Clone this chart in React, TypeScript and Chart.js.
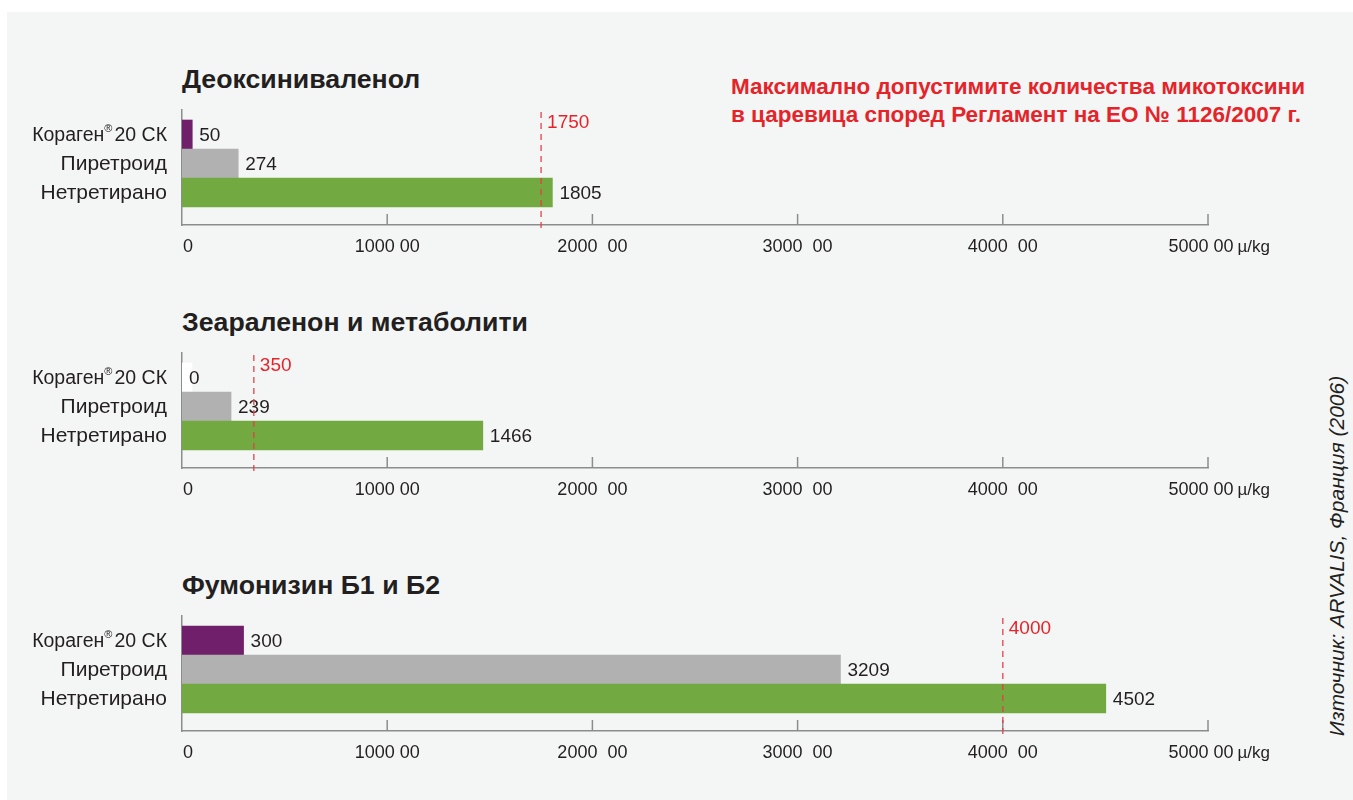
import React, { useEffect, useRef } from 'react';
import { Chart, registerables } from 'chart.js';

Chart.register(...registerables);

// ---------- data ----------
const categories = ['Кораген® 20 СК', 'Пиретроид', 'Нетретирано'];
const titles = ['Деоксиниваленол', 'Зеараленон и метаболити', 'Фумонизин Б1 и Б2'];
const deoxynivalenol = [50, 274, 1805];
const zearalenone = [0, 239, 1466];
const fumonisin = [300, 3209, 4502];
const limits = [1750, 350, 4000];
const xTicks = [0, 1000, 2000, 3000, 4000, 5000];
const xTickLabels = ['0', '1000 00', '2000  00', '3000  00', '4000  00', '5000 00'];
const unitLabel = 'µ/kg';
const noteLines = [
  'Максимално допустимите количества микотоксини',
  'в царевица според Регламент на ЕО № 1126/2007 г.',
];
const sourceText = 'Източник: ARVALIS, Франция (2006)';

// ---------- styles ----------
const FONT = '"Liberation Sans", Arial, Helvetica, sans-serif';
const barColors = ['#701f6a', '#b1b1b2', '#72aa41'];
const zeroBarColor = '#ffffff';
const axisColor = '#8c8c8c';
const textColor = '#231f20';
const limitColor = '#e5242a';
const limitLineColor = 'rgba(232, 60, 70, 0.85)';
const panelColor = '#f4f6f6';

const CANVAS_W = 1300;
const CANVAS_H = 165;
const CHART_TOPS = [100, 343, 606];

function makeOverlay(values: number[], limit: number) {
  return {
    id: 'overlay',
    afterDatasetsDraw(chart: any) {
      const { ctx, chartArea, scales } = chart;
      const xs = scales.x;
      const ys = scales.y;
      ctx.save();

      // upward tick marks on x axis
      ctx.strokeStyle = axisColor;
      ctx.lineWidth = 1.5;
      xTicks.forEach((v) => {
        if (v === 0) return;
        const x = xs.getPixelForValue(v);
        ctx.beginPath();
        ctx.moveTo(x, chartArea.bottom);
        ctx.lineTo(x, chartArea.bottom - 11);
        ctx.stroke();
      });

      // x tick labels
      ctx.font = `18px ${FONT}`;
      ctx.fillStyle = textColor;
      ctx.textBaseline = 'top';
      const ly = chartArea.bottom + 13;
      xTicks.forEach((v, i) => {
        const x = xs.getPixelForValue(v);
        const label = xTickLabels[i];
        if (v === 0) {
          ctx.textAlign = 'left';
          ctx.fillText(label, x + 1, ly);
        } else if (i === xTicks.length - 1) {
          const w = ctx.measureText(label).width;
          const cx = x - 7;
          ctx.textAlign = 'center';
          ctx.fillText(label, cx, ly);
          ctx.textAlign = 'left';
          ctx.font = `17px ${FONT}`;
          ctx.fillText(unitLabel, cx + w / 2 + 4, ly + 1);
          ctx.font = `18px ${FONT}`;
        } else {
          ctx.textAlign = 'center';
          ctx.fillText(label, x, ly);
        }
      });

      // value labels
      ctx.font = `19px ${FONT}`;
      ctx.fillStyle = textColor;
      ctx.textAlign = 'left';
      ctx.textBaseline = 'middle';
      values.forEach((v, i) => {
        ctx.fillText(String(v), xs.getPixelForValue(v) + 7, ys.getPixelForValue(i) + 1);
      });

      // limit line
      const lx = xs.getPixelForValue(limit);
      ctx.strokeStyle = limitLineColor;
      ctx.lineWidth = 1.5;
      ctx.setLineDash([6, 5]);
      ctx.beginPath();
      ctx.moveTo(lx, chartArea.top + 2);
      ctx.lineTo(lx, chartArea.bottom + 3);
      ctx.stroke();
      ctx.setLineDash([]);
      ctx.fillStyle = limitColor;
      ctx.textBaseline = 'top';
      ctx.font = `19px ${FONT}`;
      ctx.fillText(String(limit), lx + 6, chartArea.top + 3);

      // category labels (right aligned)
      ctx.fillStyle = textColor;
      ctx.textBaseline = 'middle';
      const rx = chartArea.left - 15;
      categories.forEach((cat, i) => {
        const y = ys.getPixelForValue(i) + 1;
        const idx = cat.indexOf('®');
        if (idx >= 0) {
          const big = `19.5px ${FONT}`;
          const small = `11px ${FONT}`;
          const a = cat.slice(0, idx);
          const b = cat.slice(idx + 1).trim();
          ctx.font = big;
          const wa = ctx.measureText(a).width;
          const wb = ctx.measureText(b).width;
          ctx.font = small;
          const ws = ctx.measureText('®').width;
          const gap = 2;
          let x = rx - (wa + ws + gap + wb);
          ctx.textAlign = 'left';
          ctx.font = big;
          ctx.fillText(a, x, y);
          x += wa;
          ctx.font = small;
          ctx.fillText('®', x, y - 7);
          x += ws + gap;
          ctx.font = big;
          ctx.fillText(b, x, y);
        } else {
          ctx.font = `21px ${FONT}`;
          ctx.textAlign = 'right';
          ctx.fillText(cat, rx, y);
        }
      });

      ctx.restore();
    },
  };
}

function makeConfig(values: number[], limit: number): any {
  const yMin = -0.845;
  const yMax = 3.1207;
  return {
    type: 'bar',
    data: {
      datasets: [
        {
          data: values.map((v, i) => ({ x: v, y: i })),
          backgroundColor: values.map((v, i) => (v === 0 ? zeroBarColor : barColors[i])),
          borderWidth: 0,
          categoryPercentage: 1,
          barPercentage: 1,
          minBarLength: 10,
        },
      ],
    },
    options: {
      indexAxis: 'y',
      animation: false,
      responsive: false,
      maintainAspectRatio: false,
      layout: { padding: { left: 0, right: CANVAS_W - 1208, top: 10, bottom: 0 } },
      plugins: { legend: { display: false }, tooltip: { enabled: false }, title: { display: false } },
      scales: {
        x: {
          type: 'linear',
          min: 0,
          max: 5000,
          offset: false,
          grid: { display: false, drawTicks: false },
          border: { display: true, color: axisColor, width: 1.5 },
          ticks: { display: false },
          afterBuildTicks: (s: any) => {
            s.ticks = xTicks.map((v) => ({ value: v }));
          },
          afterFit: (s: any) => {
            s.height = 40;
          },
        },
        y: {
          type: 'linear',
          reverse: true,
          min: yMin,
          max: yMax,
          offset: false,
          grid: { display: false, drawTicks: false, offset: false },
          border: { display: true, color: axisColor, width: 1.5 },
          ticks: { display: false },
          afterBuildTicks: (s: any) => {
            s.ticks = categories.map((_, i) => ({ value: i }));
          },
          afterFit: (s: any) => {
            s.width = 182;
          },
        },
      },
    },
    plugins: [makeOverlay(values, limit)],
  };
}

function BarPanel({ values, limit, top }: { values: number[]; limit: number; top: number }) {
  const ref = useRef<HTMLCanvasElement | null>(null);
  useEffect(() => {
    if (!ref.current) return;
    const chart = new Chart(ref.current, makeConfig(values, limit));
    return () => chart.destroy();
  }, [values, limit]);
  return (
    <canvas
      ref={ref}
      width={CANVAS_W}
      height={CANVAS_H}
      style={{ position: 'absolute', left: 0, top, width: CANVAS_W, height: CANVAS_H }}
    />
  );
}

export default function App() {
  const series = [deoxynivalenol, zearalenone, fumonisin];
  const titleTops = [66, 309, 572];
  return (
    <div
      style={{
        position: 'fixed',
        left: 0,
        top: 0,
        width: 1353,
        height: 800,
        background: '#ffffff',
        overflow: 'hidden',
        fontFamily: FONT,
      }}
    >
      <div style={{ position: 'absolute', left: 7, top: 12, right: 0, bottom: 0, background: panelColor }} />
      {titles.map((t, i) => (
        <div
          key={t}
          style={{
            position: 'absolute',
            left: 182,
            top: titleTops[i],
            fontSize: 26.7,
            lineHeight: '27px',
            fontWeight: 'bold',
            color: textColor,
            whiteSpace: 'nowrap',
          }}
        >
          {t}
        </div>
      ))}
      <div
        style={{
          position: 'absolute',
          left: 731,
          top: 73,
          fontSize: 22.5,
          lineHeight: '28px',
          fontWeight: 'bold',
          color: limitColor,
          whiteSpace: 'nowrap',
        }}
      >
        {noteLines.map((l) => (
          <div key={l}>{l}</div>
        ))}
      </div>
      {series.map((s, i) => (
        <BarPanel key={i} values={s} limit={limits[i]} top={CHART_TOPS[i]} />
      ))}
      <div
        style={{
          position: 'absolute',
          left: 1337,
          top: 556,
          transform: 'translate(-50%, -50%) rotate(-90deg)',
          fontSize: 21,
          fontStyle: 'italic',
          color: textColor,
          whiteSpace: 'nowrap',
        }}
      >
        {sourceText}
      </div>
    </div>
  );
}
